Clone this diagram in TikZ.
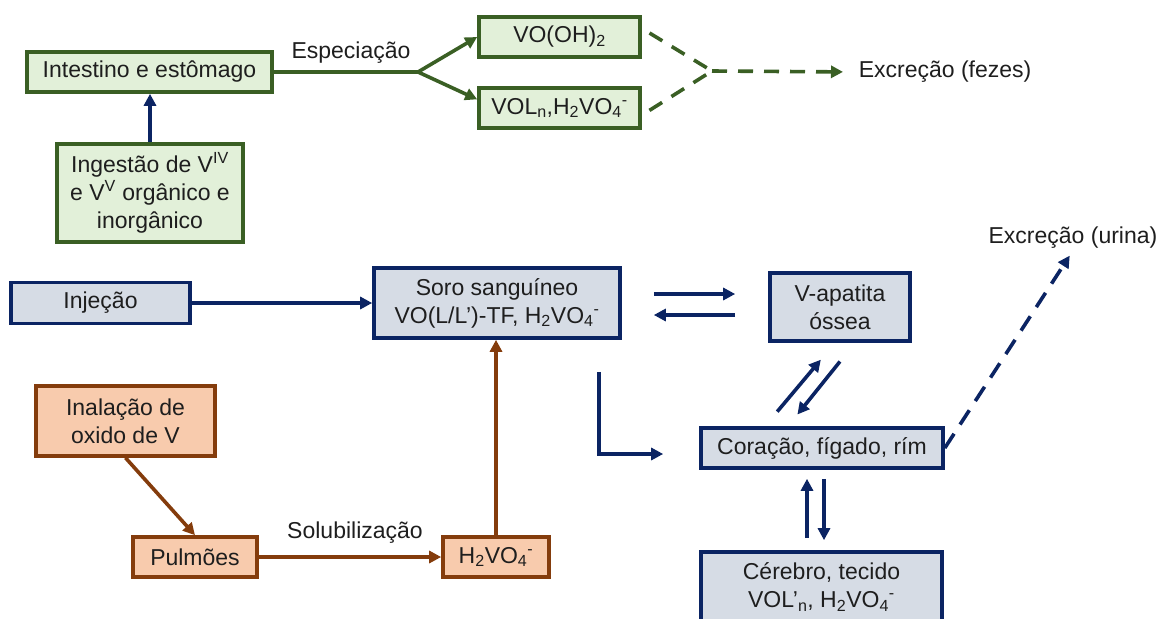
\documentclass[tikz,border=0pt]{standalone}
\usepackage{fontspec}
\setmainfont{Liberation Sans}
\usetikzlibrary{arrows.meta}

\definecolor{leafgreen}{HTML}{3A5F24}
\definecolor{leaffill}{HTML}{E2F0D9}
\definecolor{navy}{HTML}{0B2463}
\definecolor{bluefill}{HTML}{D6DCE5}
\definecolor{rust}{HTML}{843C0C}
\definecolor{peach}{HTML}{F8CBAD}
\definecolor{inkgray}{HTML}{1E1E1E}

\begin{document}
\begin{tikzpicture}[x=1pt,y=-1pt,line width=3.6pt,
  >={Triangle[length=12pt,width=12pt]},
  box/.style={draw,rectangle,inner sep=0pt,align=center,text=inkgray,
    font=\fontsize{23}{28}\selectfont},
  greenbox/.style={box,draw=leafgreen,fill=leaffill},
  bluebox/.style={box,draw=navy,fill=bluefill},
  orangebox/.style={box,draw=rust,fill=peach},
  lbl/.style={inner sep=0pt,text=inkgray,font=\fontsize{23}{28}\selectfont},
  dashline/.style={dash pattern=on 15pt off 11pt}]
  \useasboundingbox (0,0) rectangle (1163,619);

  % via oral
  \node[greenbox,minimum width=245pt,minimum height=40pt] (intest) at (149.5,72) {Intestino e estômago};
  \node[greenbox,minimum width=186pt,minimum height=98pt] (ingest) at (150,193) {Ingestão de V\textsuperscript{IV}\\e V\textsuperscript{V} orgânico e\\inorgânico};
  \node[greenbox,minimum width=161pt,minimum height=40pt] (vooh) at (559.5,37) {VO(OH)\textsubscript{2}};
  \node[greenbox,minimum width=161pt,minimum height=40pt] (voln) at (559.5,108) {VOL\textsubscript{n},H\textsubscript{2}VO\textsubscript{4}\textsuperscript{-}};
  \coordinate (spec) at (418,72);
  \coordinate (feces) at (712,71);
  \node[lbl] at (351,53) {Especiação};
  \node[lbl,anchor=west] (fezes) at (857,72) {Excreção (fezes)};

  \draw[navy,->] (ingest.north) -- (ingest.north |- intest.south);
  \draw[leafgreen] (intest.east) -- (spec);
  \draw[leafgreen,->] (spec) -- (vooh.west);
  \draw[leafgreen,->] (spec) -- (voln.174);
  \draw[leafgreen,dashline,shorten <=9pt] (vooh.6) -- (feces);
  \draw[leafgreen,dashline,shorten <=9pt] (voln.-5) -- (feces);
  \draw[leafgreen,dashline,->,shorten >=14pt] (feces) -- (fezes.west);

  % sangue e orgaos
  \node[bluebox,minimum width=179pt,minimum height=41pt] (injec) at (100.5,303) {Injeção};
  \node[bluebox,minimum width=246pt,minimum height=70pt] (soro) at (497,303) {Soro sanguíneo\\VO(L/L’)-TF, H\textsubscript{2}VO\textsubscript{4}\textsuperscript{-}};
  \node[bluebox,minimum width=140pt,minimum height=68pt] (apat) at (840,307) {V-apatita\\óssea};
  \node[bluebox,minimum width=242pt,minimum height=40pt] (corac) at (822,448) {Coração, fígado, rím};
  \node[bluebox,minimum width=241pt,minimum height=70pt] (cereb) at (821.5,587) {Cérebro, tecido\\VOL’\textsubscript{n}, H\textsubscript{2}VO\textsubscript{4}\textsuperscript{-}};
  \node[lbl] (urina) at (1073,238) {Excreção (urina)};

  \draw[navy,->] (injec) -- (soro);
  \draw[navy,->,shorten <=32pt,shorten >=33pt] (soro.east |- 0,294) -- (apat.west |- 0,294);
  \draw[navy,->,shorten <=33pt,shorten >=32pt] (apat.west |- 0,315) -- (soro.east |- 0,315);
  \draw[navy,->,shorten <=32pt,shorten >=36pt] (soro.south -| 599,0) |- (corac.west |- 0,454);
  \draw[navy,->,shorten <=19pt,shorten >=22pt] (corac.north -| 765,0) -- (apat.south -| 835,0);
  \draw[navy,->,shorten <=24pt,shorten >=15pt] (apat.south -| 855,0) -- (corac.north -| 788,0);
  \draw[navy,->,shorten <=12pt,shorten >=9pt] (cereb.north -| 807,0) -- (corac.south -| 807,0);
  \draw[navy,->,shorten <=9pt,shorten >=10pt] (corac.south -| 824,0) -- (cereb.north -| 824,0);
  \draw[navy,->,dash pattern=on 17pt off 11pt,shorten >=6pt] (corac.east) -- (urina.south);

  % via inalatoria
  \node[orangebox,minimum width=179pt,minimum height=70pt] (inal) at (125.5,421) {Inalação de\\oxido de V};
  \node[orangebox,minimum width=124pt,minimum height=40pt] (pulm) at (195,557) {Pulmões};
  \node[orangebox,minimum width=106pt,minimum height=40pt] (h2vo) at (496,557) {H\textsubscript{2}VO\textsubscript{4}\textsuperscript{-}};
  \node[lbl] at (355,533) {Solubilização};

  \draw[rust,->] (inal.south) -- (pulm.north);
  \draw[rust,->] (pulm) -- (h2vo);
  \draw[rust,->] (h2vo.north) -- (h2vo.north |- soro.south);
\end{tikzpicture}
\end{document}
